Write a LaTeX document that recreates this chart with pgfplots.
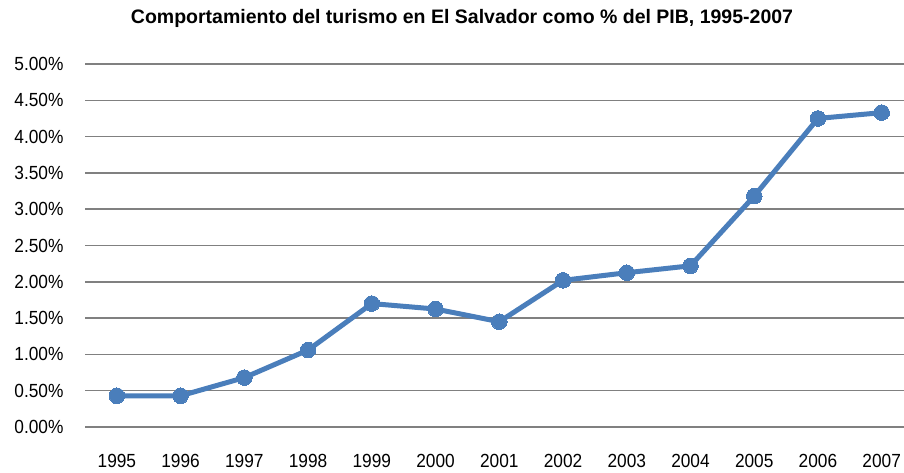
\documentclass[border=0pt]{standalone}
\usepackage{pgfplots}
\pgfplotsset{compat=1.18}
\usepackage{fontspec}
\setmainfont{Liberation Sans}
\newfontfamily\narrowfont[FakeStretch=0.91]{Liberation Sans}
\definecolor{lineblue}{HTML}{4A7EBB}
\begin{document}
\begin{tikzpicture}
\useasboundingbox (0pt,0pt) rectangle (904pt,473pt);
\node[font=\bfseries\fontsize{19.5}{22}\selectfont] at (462pt,455pt) {Comportamiento del turismo en El Salvador como \% del PIB, 1995-2007};
\begin{axis}[
  at={(85pt,46pt)}, anchor=south west,
  scale only axis, width=819pt, height=363pt,
  xmin=-0.5, xmax=12.35, ymin=0, ymax=5,
  axis line style={draw=none},
  major tick length=0pt,
  ytick={0,0.5,...,5},
  xtick={0,...,12},
  xticklabels={1995,1996,1997,1998,1999,2000,2001,2002,2003,2004,2005,2006,2007},
  yticklabel={\pgfmathprintnumber[fixed,fixed zerofill,precision=2]{\tick}\%},
  /pgf/number format/assume math mode=true,
  ymajorgrids,
  grid style={color=black!50, line width=1.5pt},
  tick label style={font=\narrowfont\fontsize{19}{22}\selectfont},
  yticklabel style={xshift=-18pt},
  xticklabel style={yshift=-24pt},
  clip=false,
]
\addplot[color=lineblue, line width=5pt, mark=*, mark size=7.8pt, mark options={fill=lineblue, draw=lineblue, line width=0pt}]
coordinates {
(0,0.43) (1,0.43) (2,0.68) (3,1.06) (4,1.70) (5,1.625) (6,1.45)
(7,2.02) (8,2.125) (9,2.22) (10,3.18) (11,4.25) (12,4.33)
};
\end{axis}
\end{tikzpicture}
\end{document}
